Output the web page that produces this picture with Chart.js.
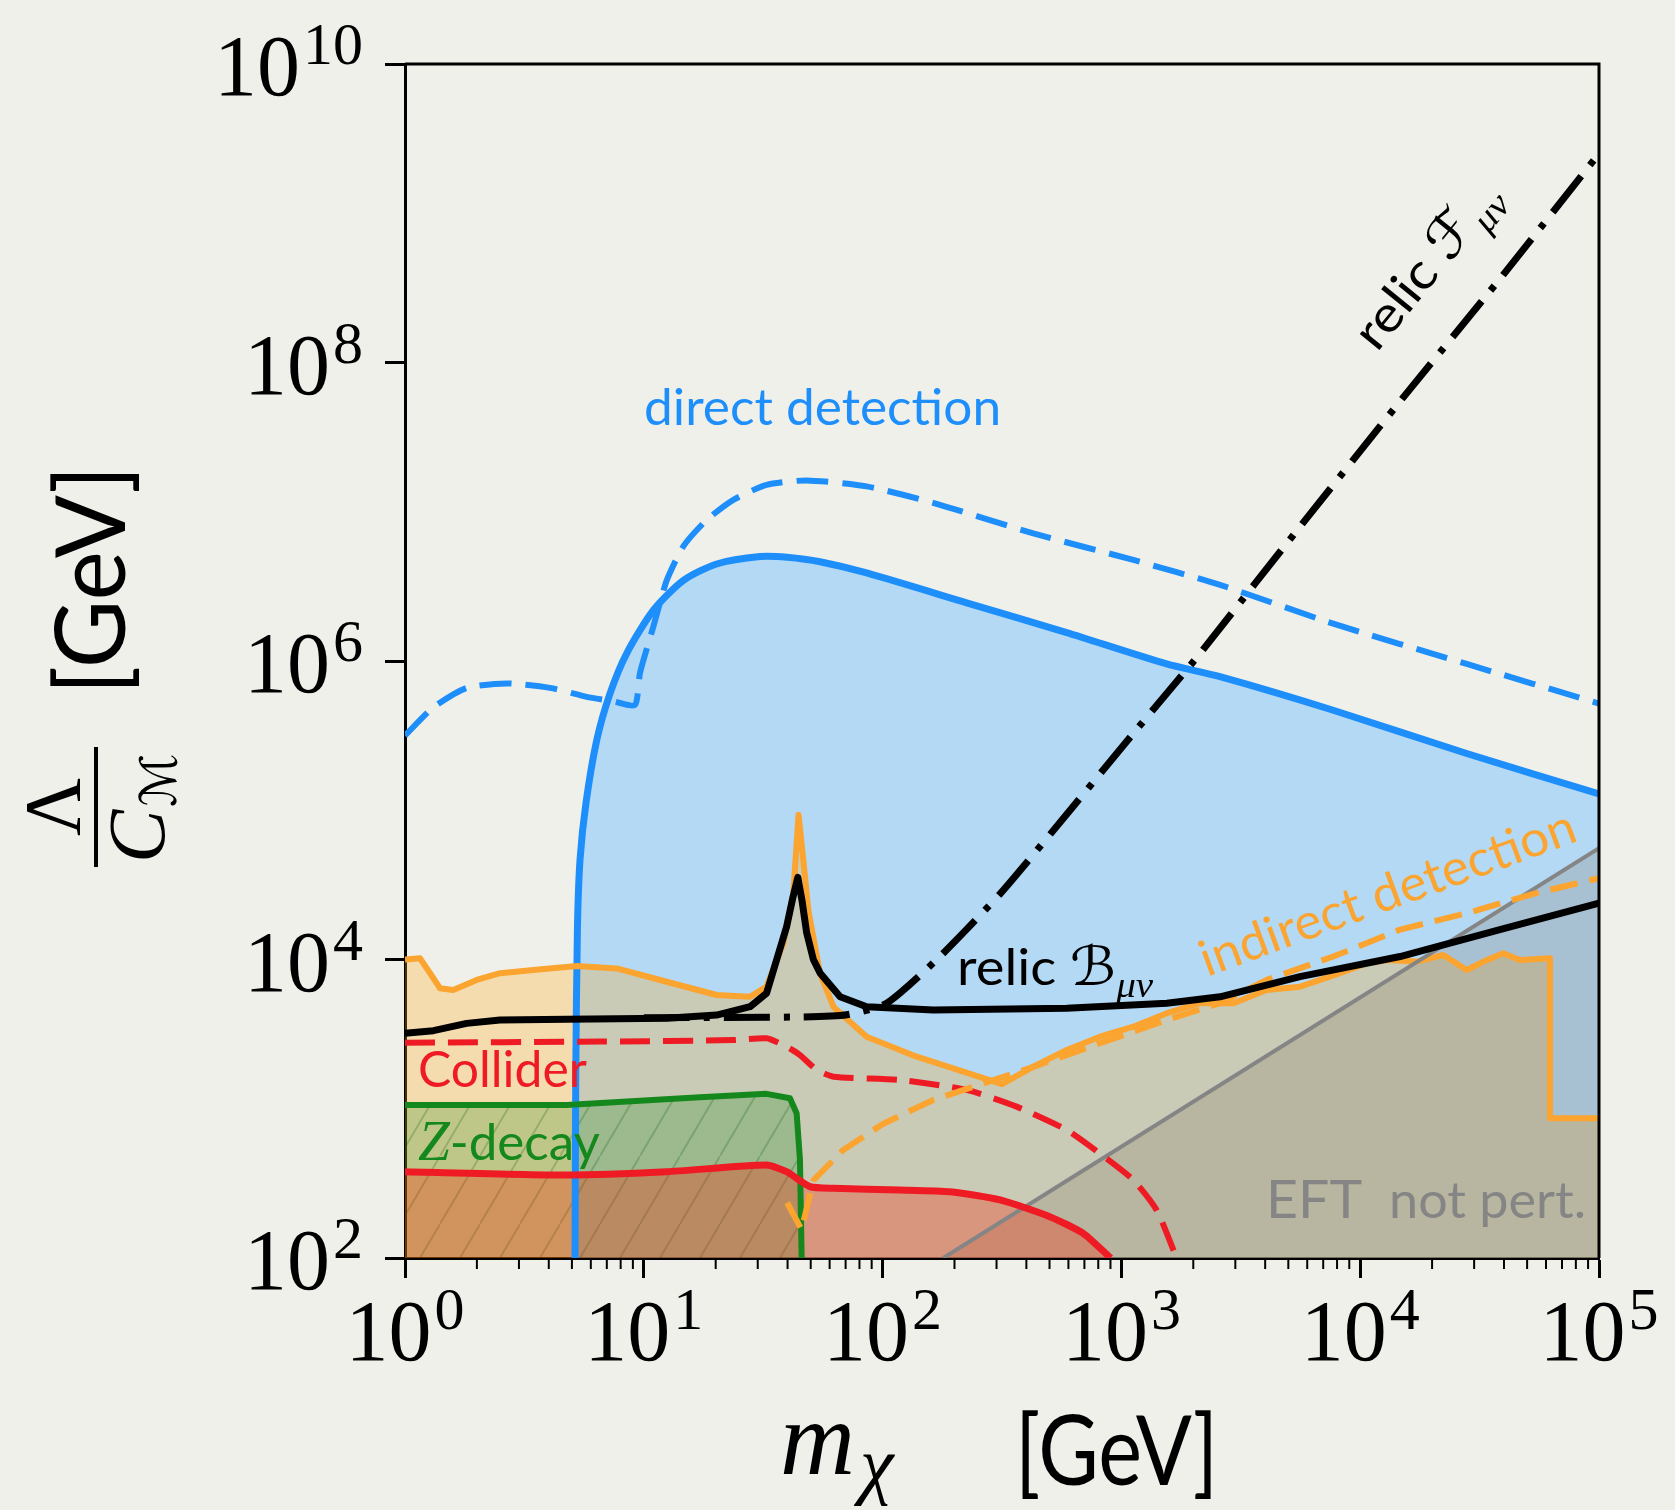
<!DOCTYPE html>
<html>
<head>
<meta charset="utf-8">
<script src="https://cdn.jsdelivr.net/npm/chart.js@4.4.1/dist/chart.umd.min.js"></script>
<style>
  html, body { margin: 0; padding: 0; background: #f0f0eb; }
  canvas { display: block; }
</style>
</head>
<body>
<canvas id="grafico" width="1675" height="1510"></canvas>
<script>
// values, as log10: m_chi [GeV] and Lambda/C_M [GeV]
var xTickExp = [0, 1, 2, 3, 4, 5];
var yTickExp = [2, 4, 6, 8, 10];

// direct detection (limit, solid, filled)
var ddSolidM = [0.712, 0.715, 0.722, 0.733, 0.758, 0.803, 0.858, 0.928, 1.040, 1.166, 1.305, 1.487, 1.600, 1.738, 1.933, 2.352, 2.771, 3.190, 3.413, 3.887, 4.446, 5.0];
var ddSolidL = [2.0, 3.2, 4.2, 4.67, 5.05, 5.47, 5.78, 6.05, 6.34, 6.54, 6.65, 6.70, 6.695, 6.665, 6.59, 6.39, 6.19, 5.98, 5.895, 5.67, 5.38, 5.11];
// direct detection (projection, dashed)
var ddDashM = [0.0, 0.119, 0.258, 0.426, 0.607, 0.761, 0.872, 0.963, 0.984, 1.040, 1.096, 1.166, 1.263, 1.375, 1.514, 1.682, 1.933, 2.212, 2.631, 3.050, 3.413, 3.887, 4.446, 5.0];
var ddDashL = [5.50, 5.69, 5.82, 5.85, 5.82, 5.76, 5.73, 5.705, 5.92, 6.23, 6.54, 6.77, 6.945, 7.08, 7.18, 7.21, 7.17, 7.06, 6.855, 6.677, 6.51, 6.25, 5.98, 5.715];
// relic F_mu_nu (dash-dot)
var relicFM = [1.0, 1.654, 1.850, 2.017, 2.240, 2.492, 2.785, 3.050, 3.329, 3.560, 3.748, 4.167, 4.585, 5.0];
var relicFL = [3.61, 3.615, 3.63, 3.707, 4.02, 4.44, 5.00, 5.515, 6.05, 6.52, 6.90, 7.74, 8.56, 9.40];
// relic B_mu_nu (solid black)
var relicBM = [0.0, 0.119, 0.258, 0.398, 0.677, 1.096, 1.305, 1.445, 1.514, 1.556, 1.598, 1.625, 1.645, 1.662, 1.682, 1.710, 1.738, 1.822, 1.933, 2.212, 2.771, 3.190, 3.413, 3.748, 4.167, 4.585, 5.0];
var relicBL = [3.505, 3.523, 3.572, 3.595, 3.60, 3.606, 3.628, 3.684, 3.774, 3.997, 4.22, 4.42, 4.55, 4.40, 4.18, 4.0, 3.91, 3.75, 3.684, 3.662, 3.673, 3.707, 3.75, 3.885, 4.02, 4.20, 4.377];
// indirect detection (limit, solid, filled)
var idSolidM = [0.0, 0.063, 0.105, 0.147, 0.202, 0.300, 0.398, 0.537, 0.719, 0.887, 1.096, 1.305, 1.445, 1.514, 1.584, 1.626, 1.648, 1.668, 1.689, 1.738, 1.794, 1.933, 2.143, 2.500, 2.631, 2.771, 2.910, 3.050, 3.190, 3.329, 3.469, 3.608, 3.748, 3.915, 4.027, 4.111, 4.236, 4.348, 4.446, 4.516, 4.599, 4.669, 4.795, 4.795, 5.0];
var idSolidL = [4.0, 4.008, 3.908, 3.807, 3.796, 3.863, 3.908, 3.93, 3.956, 3.94, 3.851, 3.762, 3.75, 3.818, 4.108, 4.44, 4.97, 4.667, 4.33, 3.908, 3.684, 3.483, 3.349, 3.165, 3.282, 3.394, 3.483, 3.55, 3.64, 3.707, 3.707, 3.796, 3.818, 3.908, 3.975, 3.997, 3.986, 4.03, 3.93, 3.986, 4.042, 3.997, 4.008, 2.936, 2.936];
// indirect detection (projection, dashed)
var idDashM = [1.600, 1.661, 1.710, 1.835, 2.003, 2.212, 2.422, 2.631, 2.910, 3.190, 3.413, 3.608, 3.887, 4.167, 4.446, 4.725, 5.0];
var idDashL = [2.37, 2.19, 2.52, 2.724, 2.90, 3.059, 3.17, 3.28, 3.439, 3.595, 3.707, 3.863, 4.02, 4.20, 4.31, 4.44, 4.545];
// collider (limit, solid, filled) and projection (dashed)
var colSolidM = [0.0, 0.677, 1.096, 1.514, 1.598, 1.696, 1.794, 2.073, 2.282, 2.492, 2.700, 2.840, 2.955];
var colSolidL = [2.578, 2.556, 2.578, 2.623, 2.578, 2.478, 2.467, 2.456, 2.444, 2.389, 2.277, 2.165, 2.0];
var colDashM = [0.0, 0.817, 1.375, 1.514, 1.598, 1.654, 1.724, 1.794, 2.073, 2.352, 2.561, 2.771, 2.910, 3.050, 3.148, 3.231];
var colDashL = [3.443, 3.45, 3.46, 3.472, 3.416, 3.36, 3.26, 3.215, 3.193, 3.126, 3.014, 2.858, 2.70, 2.523, 2.32, 2.0];
// Z decay (hatched)
var zDecayM = [0.0, 0.677, 1.235, 1.514, 1.612, 1.640, 1.654, 1.661];
var zDecayL = [3.025, 3.025, 3.077, 3.10, 3.07, 2.97, 2.657, 2.0];
// EFT not perturbative
var eftM = [2.254, 5.0];
var eftL = [2.0, 4.746];

var SANS = '"Lato", "Open Sans", sans-serif';
var SERIF = '"Liberation Serif", "DejaVu Serif", serif';
var MATH = '"DejaVu Serif", "DejaVu Sans", serif';

var BLUE = '#1e8ffa', ORANGE = '#fba430', RED = '#ef1b24', GREEN = '#14881c', GREY = '#858585';

function pts(m, l) {
  return m.map(function (v, i) { return { x: Math.pow(10, v), y: Math.pow(10, l[i]) }; });
}

function hatchGreen() {
  var p = document.createElement('canvas');
  p.width = 40; p.height = 68;
  var g = p.getContext('2d');
  g.fillStyle = 'rgba(0,128,0,0.22)';
  g.fillRect(0, 0, 40, 68);
  g.strokeStyle = 'rgba(0,80,0,0.22)';
  g.lineWidth = 2;
  g.beginPath(); g.moveTo(-4, 74.8); g.lineTo(44, -6.8); g.stroke();
  return g.createPattern(p, 'repeat');
}

// text labels inside the plot, anchored at data coords (left end of baseline)
var textos = [
  { m: 1.001, l: 7.581, ang: 0, w: 357, parts: [['direct detection', '50px ' + SANS, BLUE, 0]] },
  { m: 0.054, l: 3.146, ang: 0, w: 169, parts: [['Collider', '50px ' + SANS, RED, 0]] },
  { m: 0.054, l: 2.657, ang: 0, w: 182, parts: [['Z', 'italic 56px ' + SERIF, GREEN, 0], ['-decay', '50px ' + SANS, GREEN, 0]] },
  { m: 2.312, l: 3.829, ang: 0, w: 196, parts: [['relic ', '50px ' + SANS, '#000', 0], ['\u212C', 'italic 54px ' + MATH, '#000', 0], ['\u03BC\u03BD', 'italic 36px ' + SERIF, '#000', 12]] },
  { m: 4.070, l: 8.064, ang: -51, w: 200, parts: [['relic ', '50px ' + SANS, '#000', 0], ['\u2131', 'italic 54px ' + MATH, '#000', 0], ['\u03BC\u03BD', 'italic 36px ' + SERIF, '#000', 12]] },
  { m: 3.358, l: 3.883, ang: -20.1, w: 397, parts: [['indirect detection', '50px ' + SANS, ORANGE, 0]] },
  { m: 3.606, l: 2.268, ang: 0, w: 96, parts: [['EFT', '52px ' + SANS, GREY, 0]] },
  { m: 4.121, l: 2.268, ang: 0, w: 197, parts: [['not pert.', '50px ' + SANS, GREY, 0]] }
];

function drawParts(c, parts, x, y, width, angle) {
  var total = 0, ws = [];
  parts.forEach(function (p) { c.font = p[1]; var w = c.measureText(p[0]).width; ws.push(w); total += w; });
  c.save();
  c.translate(x, y);
  c.rotate(angle * Math.PI / 180);
  if (width) c.scale(width / total, 1);
  c.textAlign = 'left';
  c.textBaseline = 'alphabetic';
  var cx = 0;
  parts.forEach(function (p, i) {
    c.font = p[1]; c.fillStyle = p[2];
    c.fillText(p[0], cx, p[3]);
    cx += ws[i];
  });
  c.restore();
}

function drawPow(c, exp, x, y, align) {
  var big = '86px ' + SERIF, small = '60px ' + SERIF;
  c.font = big; var wb = c.measureText('10').width;
  c.font = small; var we = c.measureText(String(exp)).width;
  var total = wb + 3 + we;
  var left = align === 'right' ? x - total : x - total / 2;
  c.fillStyle = '#000';
  c.textAlign = 'left';
  c.textBaseline = 'alphabetic';
  c.font = big; c.fillText('10', left, y);
  c.font = small; c.fillText(String(exp), left + wb + 3, y - 31);
}

var decor = {
  id: 'decor',
  beforeDraw: function (chart) {
    var c = chart.ctx;
    c.save();
    c.fillStyle = '#f0f0eb';
    c.fillRect(0, 0, chart.width, chart.height);
    c.restore();
  },
  afterDraw: function (chart) {
    var c = chart.ctx, a = chart.chartArea, sx = chart.scales.x, sy = chart.scales.y;
    c.save();
    // labels inside
    textos.forEach(function (t) {
      drawParts(c, t.parts, sx.getPixelForValue(Math.pow(10, t.m)), sy.getPixelForValue(Math.pow(10, t.l)), t.w, t.ang);
    });
    // top and right spines
    c.strokeStyle = '#000';
    c.lineWidth = 3;
    c.beginPath();
    c.moveTo(a.left, a.top); c.lineTo(a.right, a.top); c.lineTo(a.right, a.bottom);
    c.stroke();
    // minor ticks on x
    c.lineWidth = 2;
    for (var d = 0; d < 5; d++) {
      for (var k = 2; k <= 9; k++) {
        var px = sx.getPixelForValue(k * Math.pow(10, d));
        c.beginPath(); c.moveTo(px, a.bottom); c.lineTo(px, a.bottom + 11); c.stroke();
      }
    }
    // tick labels
    yTickExp.forEach(function (e) {
      drawPow(c, e, 363, sy.getPixelForValue(Math.pow(10, e)) + 31, 'right');
    });
    xTickExp.forEach(function (e) {
      drawPow(c, e, sx.getPixelForValue(Math.pow(10, e)), a.bottom + 102, 'center');
    });
    // x title
    drawParts(c, [['m', 'italic 105px ' + SERIF, '#000', 0]], 780, 1474, 75, 0);
    drawParts(c, [['\u03C7', 'italic 76px ' + SERIF, '#000', 0]], 860, 1490, 0, 0);
    drawParts(c, [['[GeV]', '97px ' + SANS, '#000', 0]], 1015, 1485, 203, 0);
    // y title (rotated)
    c.save();
    c.translate(125, 580);
    c.rotate(-Math.PI / 2);
    c.font = '97px ' + SANS;
    var gw = c.measureText('[GeV]').width;
    c.scale(229 / gw, 1);
    c.fillStyle = '#000';
    c.textAlign = 'center';
    c.fillText('[GeV]', 0, 0);
    c.restore();
    c.save();
    c.translate(96, 807);
    c.rotate(-Math.PI / 2);
    c.fillStyle = '#000';
    c.textAlign = 'center';
    c.font = '80px ' + SERIF;
    c.fillText('\u039B', 0, -16);
    c.fillRect(-60, -2, 120, 4);
    c.textAlign = 'left';
    c.font = 'italic 80px ' + SERIF;
    c.fillText('C', -56, 68);
    c.font = 'italic 50px ' + MATH;
    c.fillText('\u2133', 0, 80);
    c.restore();
    c.restore();
  }
};

var conjuntos = [
  { data: pts(ddSolidM, ddSolidL), borderColor: BLUE, borderWidth: 7, fill: 'start', backgroundColor: 'rgba(125,195,255,0.52)', order: 10, tension: 0.25 },
  { data: pts(idSolidM, idSolidL), borderColor: ORANGE, borderWidth: 6, fill: 'start', backgroundColor: 'rgba(255,170,20,0.28)', order: 9 },
  { data: pts(eftM, eftL), borderColor: GREY, borderWidth: 4, fill: 'start', backgroundColor: 'rgba(120,100,70,0.2)', order: 8 },
  { data: pts(zDecayM, zDecayL), borderColor: GREEN, borderWidth: 6, fill: 'start', backgroundColor: hatchGreen(), order: 7 },
  { data: pts(colSolidM, colSolidL), borderColor: RED, borderWidth: 7, fill: 'start', backgroundColor: 'rgba(255,30,0,0.3)', order: 6, tension: 0.2 },
  { data: pts(colDashM, colDashL), borderColor: RED, borderWidth: 6, borderDash: [30, 13], fill: false, order: 5, tension: 0.2 },
  { data: pts(idDashM, idDashL), borderColor: ORANGE, borderWidth: 6, borderDash: [28, 12], fill: false, order: 4 },
  { data: pts(ddDashM, ddDashL), borderColor: BLUE, borderWidth: 6, borderDash: [32, 14], fill: false, order: 3, tension: 0.2 },
  { data: pts(relicFM, relicFL), borderColor: '#000', borderWidth: 7, borderDash: [46, 14, 6, 14], fill: false, order: 2, tension: 0.2 },
  { data: pts(relicBM, relicBL), borderColor: '#000', borderWidth: 7, fill: false, order: 1 }
];

var grafico = new Chart(document.getElementById('grafico').getContext('2d'), {
  type: 'line',
  data: { datasets: conjuntos },
  options: {
    responsive: false,
    animation: false,
    events: [],
    layout: { padding: { left: 385, top: 64, right: 76, bottom: 232 } },
    elements: { point: { radius: 0 }, line: { borderJoinStyle: 'round', borderCapStyle: 'butt' } },
    plugins: {
      legend: { display: false },
      tooltip: { enabled: false },
      filler: { drawTime: 'beforeDatasetsDraw' }
    },
    scales: {
      x: {
        type: 'logarithmic', min: 1, max: 1e5,
        afterBuildTicks: function (s) { s.ticks = xTickExp.map(function (e) { return { value: Math.pow(10, e) }; }); },
        ticks: { display: false },
        grid: { drawOnChartArea: false, drawTicks: true, tickLength: 20, tickWidth: 3, tickColor: '#000', color: '#000' },
        border: { display: true, color: '#000', width: 3 }
      },
      y: {
        type: 'logarithmic', min: 1e2, max: 1e10,
        afterBuildTicks: function (s) { s.ticks = yTickExp.map(function (e) { return { value: Math.pow(10, e) }; }); },
        ticks: { display: false },
        grid: { drawOnChartArea: false, drawTicks: true, tickLength: 20, tickWidth: 3, tickColor: '#000', color: '#000' },
        border: { display: true, color: '#000', width: 3 }
      }
    }
  },
  plugins: [decor]
});
</script>
</body>
</html>
